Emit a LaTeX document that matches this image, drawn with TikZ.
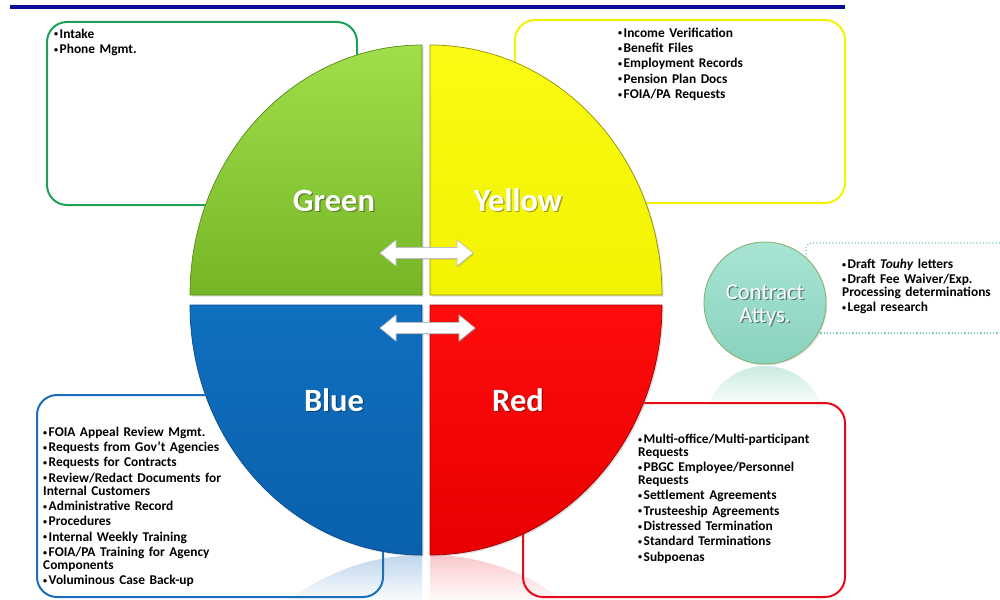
\documentclass[tikz,border=0pt]{standalone}
\usepackage{fontspec}
\setmainfont{Carlito}
\usetikzlibrary{shadows}
\definecolor{navy}{RGB}{12,12,150}
\definecolor{gbox}{RGB}{30,160,90}
\definecolor{ybox}{RGB}{245,242,0}
\definecolor{bbox}{RGB}{25,110,190}
\definecolor{rbox}{RGB}{232,10,25}
\definecolor{gtop}{RGB}{160,222,75}
\definecolor{gbot}{RGB}{118,182,38}
\definecolor{ytop}{RGB}{250,250,20}
\definecolor{ybot}{RGB}{242,242,0}
\definecolor{btop}{RGB}{15,112,192}
\definecolor{bbot}{RGB}{10,96,172}
\definecolor{rtop}{RGB}{255,12,12}
\definecolor{rbot}{RGB}{232,0,0}
\definecolor{tealA}{RGB}{168,228,212}
\definecolor{tealB}{RGB}{138,210,190}
\definecolor{tealedge}{RGB}{135,180,115}
\definecolor{dotc}{RGB}{120,200,195}
\newcommand\bitem[1]{\par\hangindent=5.5pt\hangafter=1\noindent\makebox[5.5pt][l]{\raisebox{0.2ex}{\scalebox{0.6}{\textbullet}}}#1}
\tikzset{
  box/.style={line width=2pt, rounded corners=20pt},
  listtext/.style={font=\bfseries\fontsize{13.4}{13}\selectfont, text width=330pt, align=left,
     inner sep=0pt, anchor=base west, execute at begin node={\setlength{\parskip}{2.3pt}}},
  quadlabel/.style={font=\bfseries\fontsize{32.5}{34}\selectfont, text=white, inner sep=0pt, anchor=base},
  quadshadow/.style={font=\bfseries\fontsize{32.5}{34}\selectfont, text=black, opacity=0.35, inner sep=0pt, anchor=base},
  attylabel/.style={font=\fontsize{22.5}{24}\selectfont, text=white, inner sep=0pt, anchor=base},
  attyshadow/.style={font=\fontsize{22.5}{24}\selectfont, text=black, opacity=0.45, inner sep=0pt, anchor=base},
  quad/.style={line width=0.7pt, drop shadow={opacity=0.25, shadow xshift=1.5pt, shadow yshift=-1.5pt}},
  dblarrow/.style={fill=white, draw=black!25, line width=0.6pt,
     drop shadow={opacity=0.3, shadow xshift=1.2pt, shadow yshift=-1.2pt}},
}
\begin{document}
\begin{tikzpicture}[x=1pt, y=-1pt]
\useasboundingbox (0,0) rectangle (1000,599);
\fill[white] (0,0) rectangle (1000,599);

% title rule
\draw[navy, line width=3.5pt] (10,7) -- (845,7);

% reflections
\begin{scope}
  \clip (422,805) ellipse [x radius=232, y radius=250];
  \shade[top color=bbox!28, bottom color=white] (185,555) rectangle (422,605);
\end{scope}
\begin{scope}
  \clip (430,805) ellipse [x radius=232, y radius=250];
  \shade[top color=rbox!22, bottom color=white] (430,555) rectangle (667,605);
\end{scope}
\begin{scope}
  \clip (765,427) ellipse [x radius=61, y radius=61];
  \shade[top color=tealB!45, bottom color=white] (700,366) rectangle (830,408);
\end{scope}

% boxes
\draw[box, gbox] (47,22) rectangle (357,205);
\draw[box, ybox] (515,20) rectangle (845,203);
\draw[box, bbox] (37,395) rectangle (383,597);
\draw[box, rbox] (523,403) rectangle (845,597);
\draw[dotc, dotted, line width=1.2pt, rounded corners=6pt] (806,280) -- (806,243) -- (1012,243);
\draw[dotc, dotted, line width=1.2pt] (814,333) -- (1012,333);

% quadrants
\shadedraw[quad, top color=gtop, bottom color=gbot, draw=gbot!75!black]
  (422,295) -- (190,295) arc[start angle=180, end angle=270, x radius=232, y radius=250] -- cycle;
\shadedraw[quad, top color=ytop, bottom color=ybot, draw=ybot!60!black]
  (430,295) -- (430,45) arc[start angle=270, end angle=360, x radius=232, y radius=250] -- cycle;
\shadedraw[quad, top color=btop, bottom color=bbot, draw=bbot!80!black]
  (422,305) -- (190,305) arc[start angle=180, end angle=90, x radius=232, y radius=250] -- cycle;
\shadedraw[quad, top color=rtop, bottom color=rbot, draw=rbot!70!black]
  (430,305) -- (662,305) arc[start angle=0, end angle=90, x radius=232, y radius=250] -- cycle;

% double arrows
\filldraw[dblarrow] (380,253) -- (396,240) -- (396,247.5) -- (457,247.5) -- (457,240) -- (473,253)
  -- (457,266) -- (457,258.5) -- (396,258.5) -- (396,266) -- cycle;
\filldraw[dblarrow] (380,328) -- (396,315) -- (396,322.5) -- (459,322.5) -- (459,315) -- (475,328)
  -- (459,341) -- (459,333.5) -- (396,333.5) -- (396,341) -- cycle;

% quadrant labels
\node[quadshadow] (gs) at (335.2,212.8) {Green};
\node[quadlabel]  (gl) at (334,211.6) {Green};
\node[quadshadow] (ys) at (519.2,212.8) {Yellow};
\node[quadlabel]  (yl) at (518,211.6) {Yellow};
\node[quadshadow] (bs) at (335.2,412.8) {Blue};
\node[quadlabel]  (bl) at (334,411.6) {Blue};
\node[quadshadow] (rs) at (519.2,412.8) {Red};
\node[quadlabel]  (rl) at (518,411.6) {Red};

% contract attorneys
\shadedraw[top color=tealA, bottom color=tealB, draw=tealedge, line width=0.9pt,
  drop shadow={opacity=0.25, shadow xshift=1.2pt, shadow yshift=-1.2pt}]
  (765,303) circle [radius=61];
\node[attyshadow] (cas) at (766.3,300.3) {Contract};
\node[attylabel]  (ca)  at (765,299) {Contract};
\node[attyshadow] (aas) at (766.3,323.3) {Attys.};
\node[attylabel]  (aa)  at (765,322) {Attys.};

% lists
\node[listtext] (glist) at (54,23) {\bitem{Intake}\bitem{Phone Mgmt.}};
\node[listtext] (ylist) at (618,22) {\bitem{Income Verification}\bitem{Benefit Files}\bitem{Employment Records}\bitem{Pension Plan Docs}\bitem{FOIA/PA Requests}};
\node[listtext] (clist) at (842,253) {\bitem{Draft \textit{Touhy} letters}\bitem{Draft Fee Waiver/Exp.\\Processing determinations}\bitem{Legal research}};
\node[listtext] (blist) at (43,421) {\bitem{FOIA Appeal Review Mgmt.}\bitem{Requests from Gov't Agencies}\bitem{Requests for Contracts}\bitem{Review/Redact Documents for\\Internal Customers}\bitem{Administrative Record}\bitem{Procedures}\bitem{Internal Weekly Training}\bitem{FOIA/PA Training for Agency\\Components}\bitem{Voluminous Case Back-up}};
\node[listtext] (rlist) at (638,428) {\bitem{Multi-office/Multi-participant\\Requests}\bitem{PBGC Employee/Personnel\\Requests}\bitem{Settlement Agreements}\bitem{Trusteeship Agreements}\bitem{Distressed Termination}\bitem{Standard Terminations}\bitem{Subpoenas}};
\end{tikzpicture}
\end{document}
